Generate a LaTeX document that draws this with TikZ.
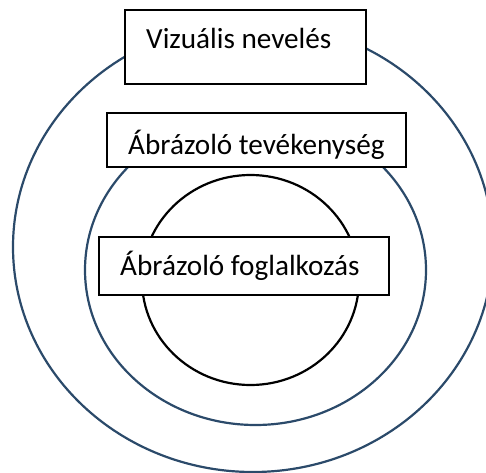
\documentclass[tikz,border=0pt]{standalone}
\usepackage{fontspec}
\setmainfont{Carlito}
\usepackage{tikz}
\usetikzlibrary{positioning}
\definecolor{ringblue}{HTML}{2B4A6A}
\tikzset{
  ring/.style={draw=ringblue, line width=2.2bp},
  core/.style={draw=black, line width=2.2bp},
  tag/.style={draw=black, fill=white, line width=1.5bp},
  caption/.style={font=\fontsize{29.3}{34}\selectfont, inner sep=0pt, anchor=base west}
}

\begin{document}
\begin{tikzpicture}[x=1bp,y=-1bp]
    \useasboundingbox (0,0) rectangle (486,473);
    \clip (0,0) rectangle (486,473);

    % Rings
    \draw[ring] (253,247) ellipse (240 and 225); % outer
    \draw[ring] (255.5,270) ellipse (170.5 and 155); % middle
    \draw[core] (250.5,280) ellipse (108.5 and 105); % inner

    % Labels in boxes
    \draw[tag] (125,10) rectangle (366,84);
    \node[caption] (viz) at (146,48.3) {Vizuális nevelés};
    \draw[tag] (107,113) rectangle (406,167);
    \node[caption] (tev) at (128,155) {Ábrázoló tevékenység};
    \draw[tag] (99,237) rectangle (389,295);
    \node[caption] (fog) at (120,275) {Ábrázoló foglalkozás};
\end{tikzpicture}
\end{document}
